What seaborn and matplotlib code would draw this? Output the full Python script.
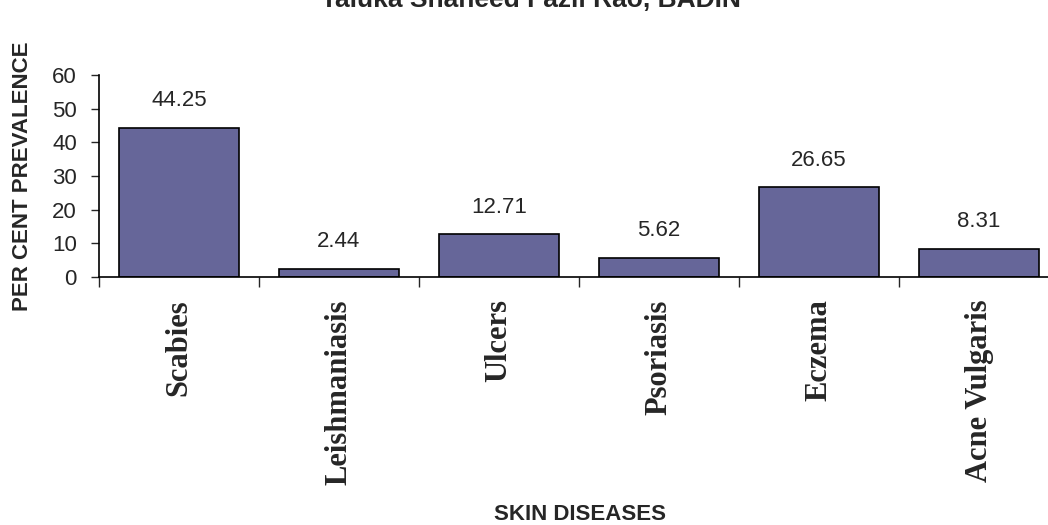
import pandas as pd
import matplotlib
matplotlib.use('Agg')
import matplotlib.pyplot as plt
import seaborn as sns

diseases = ['Scabies', 'Leishmaniasis', 'Ulcers', 'Psoriasis', 'Eczema', 'Acne Vulgaris']
prevalence = [44.25, 2.44, 12.71, 5.62, 26.65, 8.31]

df = pd.DataFrame({'disease': diseases, 'prevalence': prevalence})

sns.set_style('white')
plt.rcParams['font.family'] = ['Liberation Sans', 'DejaVu Sans']

fig = plt.figure(figsize=(10.48, 5.25), dpi=100)
ax = fig.add_axes([99 / 1048, (525 - 277) / 525, 960 / 1048, 202 / 525])

sns.barplot(data=df, x='disease', y='prevalence', color='#666699',
            edgecolor='black', linewidth=1.2, width=0.75, saturation=1, ax=ax)

ax.bar_label(ax.containers[0], fmt='%.2f', padding=12, fontsize=16)

ax.set_ylim(0, 60)
ax.set_xlim(-0.5, 5.5)
ax.set_yticks(range(0, 61, 10))
ax.tick_params(axis='y', labelsize=16, length=6, width=1, pad=10, direction='out', left=True)

# category boundary ticks on x, labels in the middle
ax.set_xticks([i - 0.5 for i in range(7)], minor=True)
ax.tick_params(axis='x', which='minor', length=7, width=1, direction='out', bottom=True)
ax.tick_params(axis='x', which='major', length=0, pad=16)
for lbl in ax.get_xticklabels():
    lbl.set_rotation(90)
    lbl.set_fontfamily('Liberation Serif')
    lbl.set_fontweight('bold')
    lbl.set_fontsize(22)

for s in ['top', 'right']:
    ax.spines[s].set_visible(False)
for s in ['left', 'bottom']:
    ax.spines[s].set_color('black')
    ax.spines[s].set_linewidth(1.2)

ax.set_xlabel('')
ax.set_ylabel('')
fig.text(23 / 1048, 1 - 176 / 525, 'PER CENT PREVALENCE', rotation=90,
         ha='center', va='center', fontsize=16, fontweight='bold')
fig.text(580 / 1048, 1 - 515 / 525, 'SKIN DISEASES', ha='center', va='center',
         fontsize=16, fontweight='bold')
# title sits partly above the top edge, as in the source image
fig.text(531 / 1048, 1 - 7 / 525, 'Taluka Shaheed Fazil Rao, BADIN', ha='center',
         va='baseline', fontsize=19, fontweight='bold')

plt.savefig('out.png', dpi=100)
